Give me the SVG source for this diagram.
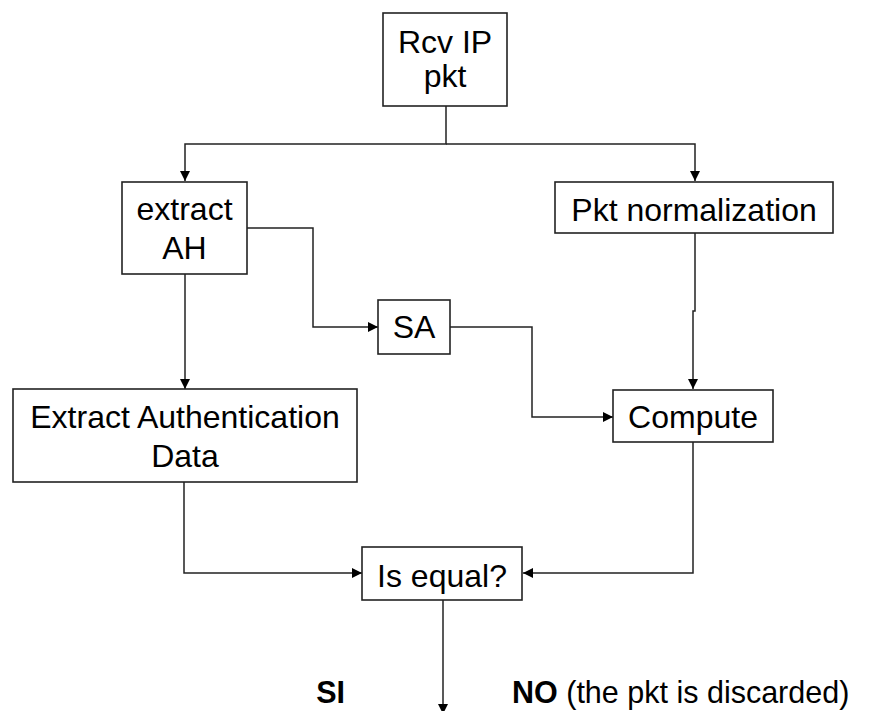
<svg xmlns="http://www.w3.org/2000/svg" width="872" height="711" viewBox="0 0 872 711">
<style>
.box{fill:#fff;stroke:#222;stroke-width:1.6}
.t{font-family:"Liberation Sans",Arial,sans-serif;font-size:32px;fill:#000;text-anchor:middle}
.lbl{font-family:"Liberation Sans",Arial,sans-serif;font-size:30.5px;fill:#000}
.c{fill:none;stroke:#222;stroke-width:1.5}
</style>
<defs>
<marker id="ah" markerUnits="userSpaceOnUse" markerWidth="10" markerHeight="10" refX="10" refY="5" orient="auto">
<path d="M0,0 L10,5 L0,10 z" fill="#000"/>
</marker>
</defs>
<rect width="872" height="711" fill="#fff"/>
<g id="connectors">
<path class="c" d="M446,106 V144 H185 V181" marker-end="url(#ah)"/>
<path class="c" d="M446,144 H695 V181" marker-end="url(#ah)"/>
<path class="c" d="M247,228 H313 V327 H378" marker-end="url(#ah)"/>
<path class="c" d="M185,274 V389" marker-end="url(#ah)"/>
<path class="c" d="M695,233 V311 H693 V389" marker-end="url(#ah)"/>
<path class="c" d="M450,327 H532 V417 H613" marker-end="url(#ah)"/>
<path class="c" d="M184,482 V573 H362" marker-end="url(#ah)"/>
<path class="c" d="M693,442 V573 H523" marker-end="url(#ah)"/>
<path class="c" d="M443,600 V714" marker-end="url(#ah)"/>
</g>
<g id="rcv">
<rect class="box" x="383" y="13" width="124" height="93"/>
<text class="t" x="445" y="53">Rcv IP</text>
<text class="t" x="445" y="87">pkt</text>
</g>
<g id="extractAH">
<rect class="box" x="122" y="182" width="125" height="92"/>
<text class="t" x="184.5" y="220">extract</text>
<text class="t" x="184.5" y="259">AH</text>
</g>
<g id="pktnorm">
<rect class="box" x="555" y="182" width="278" height="51"/>
<text class="t" x="694" y="221">Pkt normalization</text>
</g>
<g id="sa">
<rect class="box" x="378" y="300" width="72" height="54"/>
<text class="t" x="414" y="338">SA</text>
</g>
<g id="extractAuth">
<rect class="box" x="13" y="389" width="344" height="93"/>
<text class="t" x="185" y="428">Extract Authentication</text>
<text class="t" x="185" y="467">Data</text>
</g>
<g id="compute">
<rect class="box" x="613" y="390" width="160" height="52"/>
<text class="t" x="693" y="428">Compute</text>
</g>
<g id="isequal">
<rect class="box" x="362" y="547" width="160" height="53"/>
<text class="t" x="442" y="587">Is equal?</text>
</g>
<g id="labels">
<text class="lbl" x="345" y="703" text-anchor="end" font-weight="bold">SI</text>
<text class="lbl" x="512" y="703"><tspan font-weight="bold">NO</tspan> (the pkt is discarded)</text>
</g>
</svg>
